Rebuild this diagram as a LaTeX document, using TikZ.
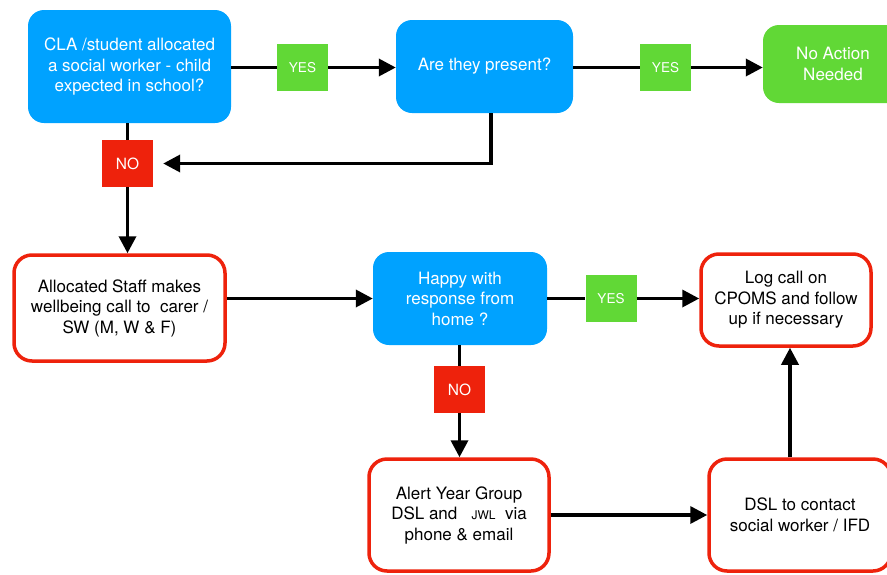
\documentclass[tikz,border=0pt]{standalone}
\usepackage{fontspec}
\setmainfont{TeX Gyre Heros}
\usetikzlibrary{arrows.meta}
\definecolor{kblue}{HTML}{00A2FF}
\definecolor{kgreen}{HTML}{61D836}
\definecolor{kred}{HTML}{EE220C}
\begin{document}
\begin{tikzpicture}[x=1pt,y=-1pt,
  boxtext/.style={align=center, inner sep=0pt, font=\fontsize{17}{20.5}\selectfont},
  bluebox/.style={boxtext, fill=kblue, rounded corners=16pt, text=white},
  greenbox/.style={boxtext, fill=kgreen, rounded corners=16pt, text=white},
  redbox/.style={boxtext, draw=kred, line width=3.5pt, fill=white, rounded corners=18pt, text=black},
  yeslbl/.style={fill=kgreen, text=white, minimum width=51pt, minimum height=47pt, inner sep=0pt, font=\fontsize{13.5}{15}\selectfont},
  nolbl/.style={fill=kred, text=white, minimum width=51pt, minimum height=47pt, inner sep=0pt, font=\fontsize{15.5}{17}\selectfont},
  conn/.style={line width=3.5pt, draw=black},
  arr/.style={conn, -{Triangle[length=17pt,width=17pt]}}
]
\useasboundingbox (0,0) rectangle (887,574);
\clip (0,0) rectangle (887,574);

% main boxes
\node[bluebox, minimum width=203pt, minimum height=113pt] (b1) at (129.5,66.5) {CLA /student allocated\\a social worker - child\\expected in school?};
\node[bluebox, minimum width=177pt, minimum height=93pt] (b2) at (484.5,66.5) {Are they present?};
\node[greenbox, minimum width=140pt, minimum height=78pt] (b3) at (833,64) {No Action\\Needed};
\node[redbox, minimum width=211pt, minimum height=106pt] (b4) at (119.5,308) {Allocated Staff makes\\wellbeing call to\ \ carer /\\SW (M, W \& F)};
\node[bluebox, minimum width=174pt, minimum height=93pt] (b5) at (460,298.5) {Happy with\\response from\\home ?};
\node[redbox, minimum width=170pt, minimum height=92pt] (b6) at (786,300) {Log call on\\CPOMS and follow\\up if necessary};
\node[redbox, minimum width=180pt, minimum height=112pt] (b7) at (459,515) {Alert Year Group\\DSL and\ \ \ {\fontsize{12}{12}\selectfont JWL}\ \ via\\phone \& email};
\node[redbox, minimum width=182pt, minimum height=112pt] (b8) at (800,515) {DSL to contact\\social worker / IFD};

% labels
\node[yeslbl] (y1) at (302.5,67.5) {YES};
\node[yeslbl] (y2) at (665.5,67.5) {YES};
\node[nolbl] (n1) at (127.5,163.5) {NO};
\node[yeslbl] (y3) at (611,298.5) {YES};
\node[nolbl] (n2) at (459.5,389.5) {NO};

% connectors
\draw[conn] (b1.east |- y1.west) -- (y1.west);
\draw[arr] (y1.east) -- (b2.west |- y1.east);
\draw[conn] (b2.east |- y2.west) -- (y2.west);
\draw[arr] (y2.east) -- (b3.west |- y2.east);
\draw[conn] (n1.north |- b1.south) -- (n1.north);
\draw[arr] (n1.south) -- (n1.south |- b4.north);
\draw[arr, shorten >=10pt] ([xshift=6.5pt]b2.south) |- (n1.east);
\draw[arr] (b5.west -| b4.east) -- (b5.west);
\draw[conn] (b5.east) -- (y3.west);
\draw[arr] (y3.east) -- (b6.west |- y3.east);
\draw[conn] (n2.north |- b5.south) -- (n2.north);
\draw[arr] (n2.south) -- (n2.south |- b7.north);
\draw[arr] (b7.east) -- (b8.west);
\draw[arr] ([xshift=4pt]b6.south |- b8.north) -- ([xshift=4pt]b6.south);
\end{tikzpicture}
\end{document}
